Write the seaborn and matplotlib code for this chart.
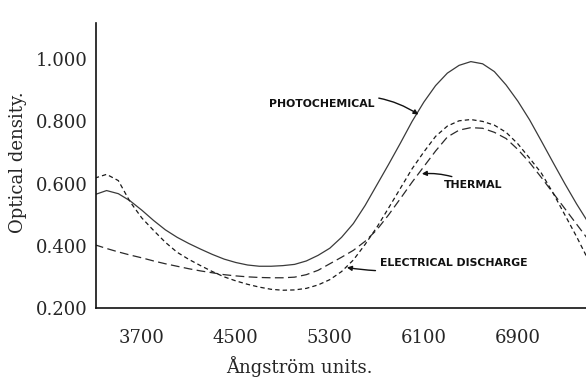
import numpy as np
import pandas as pd
import seaborn as sns
import matplotlib.pyplot as plt
from matplotlib.ticker import FixedLocator, FormatStrFormatter

# wavelength grid (Angstrom) and optical density
wavelength = [3300, 3400, 3500, 3600, 3700, 3800, 3900, 4000, 4100, 4200,
              4300, 4400, 4500, 4600, 4700, 4800, 4900, 5000, 5100, 5200,
              5300, 5400, 5500, 5600, 5700, 5800, 5900, 6000, 6100, 6200,
              6300, 6400, 6500, 6600, 6700, 6800, 6900, 7000, 7100, 7200,
              7300, 7400, 7500]

photochemical = [0.565, 0.578, 0.568, 0.545, 0.515, 0.482, 0.452, 0.428, 0.408, 0.390,
                 0.373, 0.358, 0.347, 0.339, 0.335, 0.335, 0.337, 0.341, 0.352, 0.370,
                 0.393, 0.428, 0.472, 0.530, 0.596, 0.662, 0.730, 0.800, 0.862, 0.915,
                 0.955, 0.980, 0.992, 0.985, 0.960, 0.917, 0.865, 0.805, 0.737, 0.668,
                 0.600, 0.535, 0.475]

thermal = [0.404, 0.392, 0.381, 0.371, 0.362, 0.352, 0.343, 0.335, 0.327, 0.320,
           0.314, 0.308, 0.304, 0.301, 0.299, 0.298, 0.298, 0.300, 0.308, 0.322,
           0.343, 0.364, 0.386, 0.415, 0.452, 0.500, 0.552, 0.605, 0.655, 0.705,
           0.750, 0.772, 0.780, 0.778, 0.765, 0.745, 0.710, 0.668, 0.620, 0.570,
           0.520, 0.470, 0.420]

electrical = [0.618, 0.630, 0.610, 0.542, 0.490, 0.450, 0.412, 0.380, 0.357, 0.337,
              0.318, 0.301, 0.288, 0.277, 0.268, 0.261, 0.258, 0.259, 0.264, 0.275,
              0.292, 0.318, 0.355, 0.405, 0.460, 0.522, 0.585, 0.648, 0.702, 0.752,
              0.785, 0.802, 0.806, 0.800, 0.788, 0.765, 0.728, 0.682, 0.634, 0.570,
              0.500, 0.430, 0.355]

x_major = [3700, 4500, 5300, 6100, 6900]
x_minor = [4100, 4900, 5700, 6500, 7300]
y_major = [0.2, 0.4, 0.6, 0.8, 1.0]
y_minor = [0.3, 0.5, 0.7, 0.9, 1.1]

df = pd.DataFrame({
    'wavelength': wavelength * 3,
    'density': photochemical + thermal + electrical,
    'series': ['photochemical'] * len(wavelength) + ['thermal'] * len(wavelength)
              + ['electrical'] * len(wavelength),
})

sns.set_style("white")
plt.rcParams['font.family'] = ['DejaVu Serif']

fig = plt.figure(figsize=(5.86, 3.79), dpi=100)
ax = fig.add_axes([96 / 586, (379 - 308.3) / 379, 490 / 586, 285 / 379])

sns.lineplot(data=df, x='wavelength', y='density', hue='series', style='series',
             palette={'photochemical': '#3a3a3a', 'thermal': '#2a2a2a', 'electrical': '#1a1a1a'},
             dashes={'photochemical': '', 'thermal': (7, 3.5), 'electrical': (3.5, 2.5)},
             linewidth=0.9, legend=False, ax=ax, sort=False)

ax.set_xlim(3310, 7480)
ax.set_ylim(0.2, 1.115)

ax.xaxis.set_major_locator(FixedLocator(x_major))
ax.xaxis.set_minor_locator(FixedLocator(x_minor))
ax.yaxis.set_major_locator(FixedLocator(y_major))
ax.yaxis.set_minor_locator(FixedLocator(y_minor))
ax.yaxis.set_major_formatter(FormatStrFormatter('%.3f'))

ax.tick_params(axis='x', which='both', direction='in', length=6, width=0.8,
               pad=15, labelsize=13, color='#222222')
ax.tick_params(axis='y', which='both', direction='in', length=9, width=0.8,
               pad=6, labelsize=13, color='#222222')

for side in ['top', 'right']:
    ax.spines[side].set_visible(False)
for side in ['left', 'bottom']:
    ax.spines[side].set_linewidth(1.2)
    ax.spines[side].set_color('#111111')

ax.set_xlabel('Ångström units.', fontsize=13)
ax.set_ylabel('Optical density.', fontsize=13)
ax.xaxis.label.set_va('center')
ax.yaxis.label.set_va('center')
ax.xaxis.set_label_coords(0.416, -0.206)
ax.yaxis.set_label_coords(-0.159, 0.513)

# hand lettered labels with arrows
lab_font = dict(family='DejaVu Sans', fontsize=7.8, fontweight='bold', color='#111111')


def arrow(rad):
    return dict(arrowstyle='-|>', color='#111111', lw=1.0, mutation_scale=7,
                shrinkA=1, shrinkB=0, connectionstyle=f'arc3,rad={rad}')


ax.annotate('PHOTOCHEMICAL', xy=(6054, 0.822), xytext=(5677, 0.857),
            ha='right', va='center', arrowprops=arrow(-0.25), **lab_font)
ax.annotate('THERMAL', xy=(6083, 0.632), xytext=(6267, 0.595),
            ha='left', va='center', arrowprops=arrow(0.15), **lab_font)
ax.annotate('ELECTRICAL DISCHARGE', xy=(5445, 0.331), xytext=(5728, 0.344),
            ha='left', va='center', arrowprops=arrow(-0.1), **lab_font)

plt.savefig('out.png', dpi=100)
